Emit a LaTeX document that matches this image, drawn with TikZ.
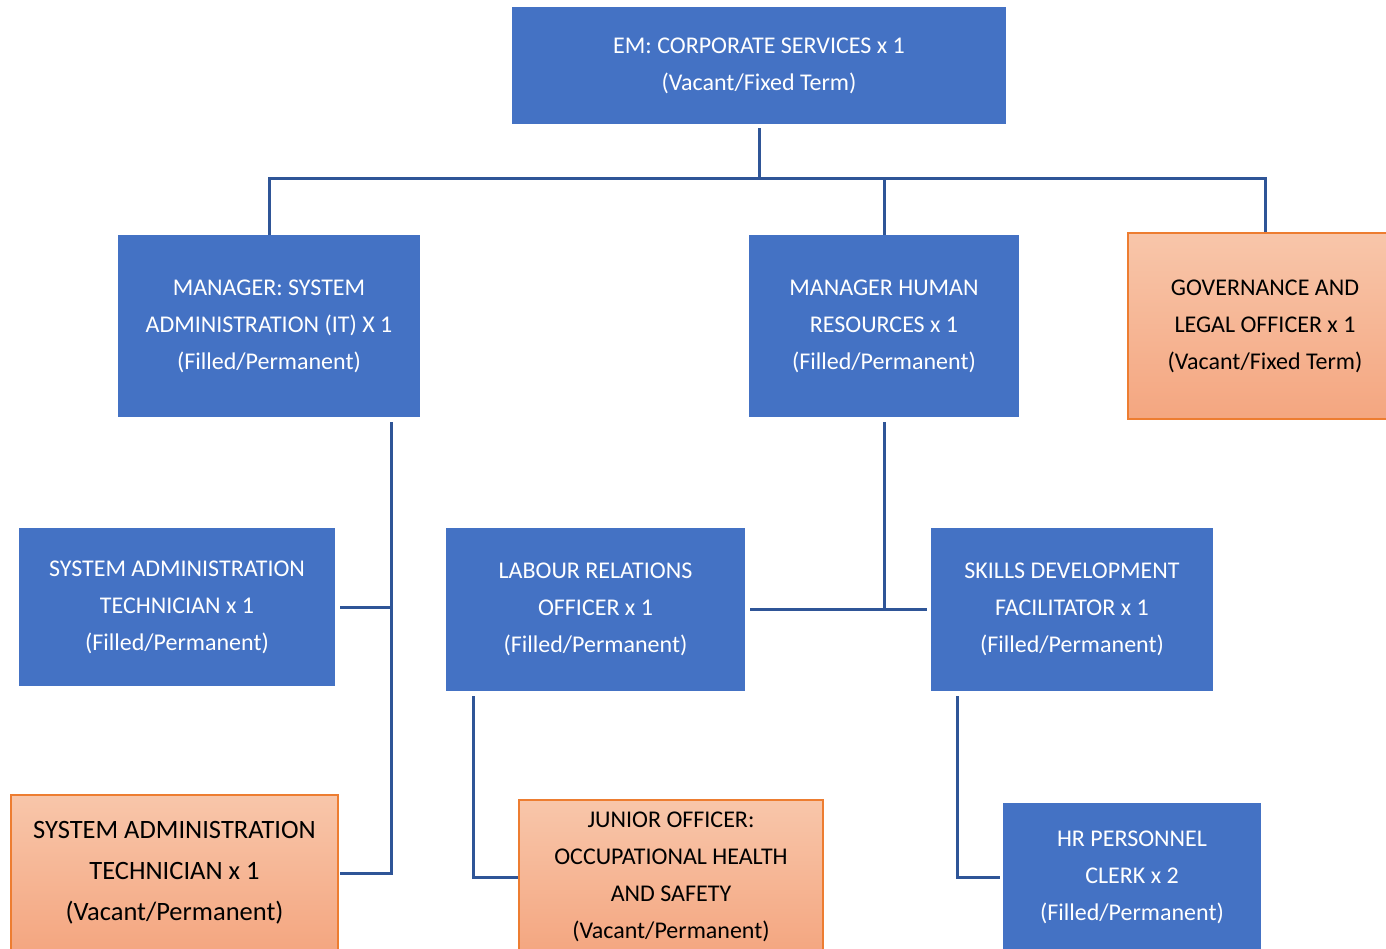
\documentclass[tikz,border=0pt]{standalone}
\usepackage{fontspec}
\setmainfont{Carlito}
\usetikzlibrary{positioning}
\definecolor{boxblue}{RGB}{68,114,196}
\definecolor{linkblue}{RGB}{47,85,151}
\definecolor{orangetop}{RGB}{248,198,170}
\definecolor{orangebot}{RGB}{244,166,128}
\definecolor{orangeline}{RGB}{237,125,49}

\begin{document}
\begin{tikzpicture}[
  x=1pt, y=-1pt,
  post/.style = {fill=boxblue, text=white, align=center, inner sep=0pt,
    font=\fontsize{24}{37}\selectfont},
  vacancy/.style = {top color=orangetop, bottom color=orangebot, draw=orangeline,
    line width=1.2pt, text=black, align=center, inner sep=0pt,
    font=\fontsize{24}{37}\selectfont},
  link/.style = {linkblue, line width=3pt},
]

  \useasboundingbox (0,0) rectangle (1386,949);

  % top level
  \node[post, minimum width=494pt, minimum height=117pt] (em) at (759,65.5)
    {EM: CORPORATE SERVICES x 1\\(Vacant/Fixed Term)};

  % managers
  \node[post, minimum width=302pt, minimum height=182pt] (mgrsys) at (269,326)
    {MANAGER: SYSTEM\\ADMINISTRATION (IT) X 1\\(Filled/Permanent)};
  \node[post, minimum width=270pt, minimum height=182pt] (mgrhr) at (884,326)
    {MANAGER HUMAN\\RESOURCES x 1\\(Filled/Permanent)};
  \node[vacancy, minimum width=274pt, minimum height=186pt] (gov) at (1265,326)
    {GOVERNANCE AND\\LEGAL OFFICER x 1\\(Vacant/Fixed Term)};

  % officers
  \node[post, minimum width=316pt, minimum height=158pt] (techit) at (177,607)
    {SYSTEM ADMINISTRATION\\TECHNICIAN x 1\\(Filled/Permanent)};
  \node[post, minimum width=299pt, minimum height=163pt] (labour) at (595.5,609.5)
    {LABOUR RELATIONS\\OFFICER x 1\\(Filled/Permanent)};
  \node[post, minimum width=282pt, minimum height=163pt] (skills) at (1072,609.5)
    {SKILLS DEVELOPMENT\\FACILITATOR x 1\\(Filled/Permanent)};

  % bottom row
  \node[vacancy, minimum width=327pt, minimum height=156pt,
    font=\fontsize{26.5}{41}\selectfont] (techvac) at (174.5,873)
    {SYSTEM ADMINISTRATION\\TECHNICIAN x 1\\(Vacant/Permanent)};
  \node[vacancy, minimum width=304pt, minimum height=154pt] (junior) at (671,877)
    {JUNIOR OFFICER:\\OCCUPATIONAL HEALTH\\AND SAFETY\\(Vacant/Permanent)};
  \node[post, minimum width=258pt, minimum height=148pt] (clerk) at (1132,877)
    {HR PERSONNEL\\CLERK x 2\\(Filled/Permanent)};

  \coordinate (bus) at (759,179);
  \coordinate (sysdrop) at ([xshift=-29pt,yshift=-5pt]mgrsys.south east);

  \draw[link] ([yshift=-4pt]em.south) -- (bus);
  \draw[link] (mgrsys.north) |- (bus) -| (gov.north);
  \draw[link] (mgrhr.north) -- (mgrhr.north |- bus);

  \draw[link] (sysdrop) |- ([xshift=1pt]techvac.east);
  \draw[link] ([xshift=5pt]techit.east) -- (techit.east -| sysdrop);

  \draw[link] ([yshift=-5pt]mgrhr.south) -- (mgrhr.south |- labour.east);
  \draw[link] ([xshift=5pt]labour.east) -- ([xshift=-4pt]skills.west);

  \draw[link] ([xshift=28pt,yshift=-5pt]labour.south west) |- (junior.west);
  \draw[link] ([xshift=27pt,yshift=-5pt]skills.south west) |- ([xshift=-3pt]clerk.west);

\end{tikzpicture}
\end{document}
